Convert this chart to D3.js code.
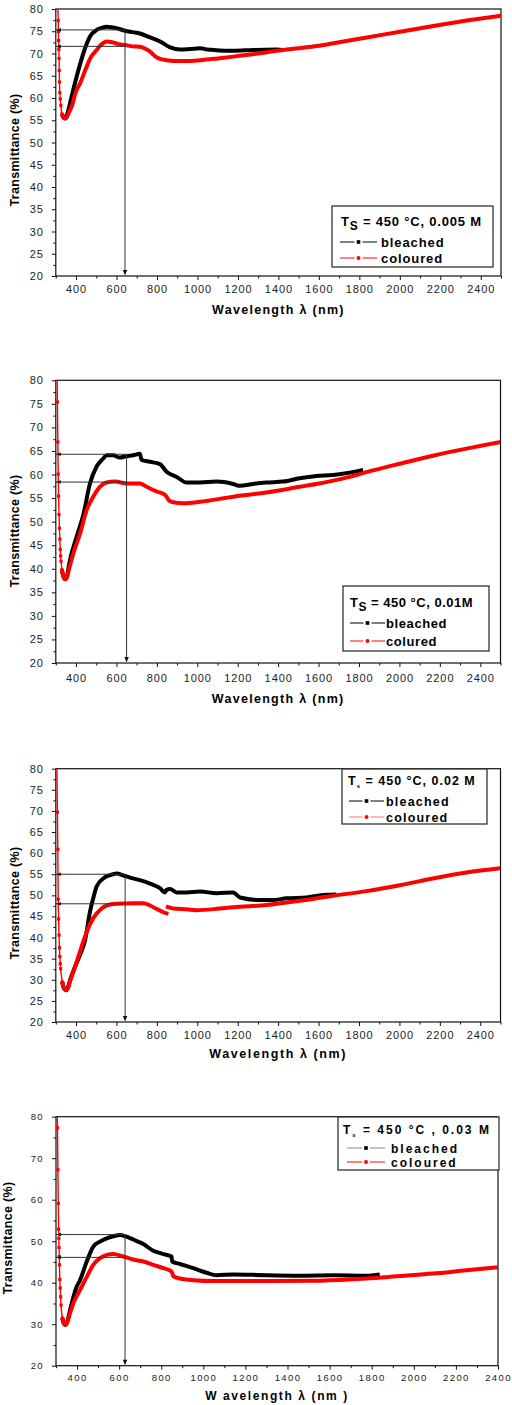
<!DOCTYPE html>
<html>
<head>
<meta charset="utf-8">
<script src="https://cdn.jsdelivr.net/npm/d3@7"></script>
<style>
  body { margin: 0; background: #fff; }
  svg { display: block; font-family: "Liberation Sans", Arial, sans-serif; }
</style>
</head>
<body>
<svg id="chart" width="512" height="1405"></svg>
<script>
// ---- tick values ----
const xMajor = [400, 600, 800, 1000, 1200, 1400, 1600, 1800, 2000, 2200, 2400];
const xMinor = [300, 500, 700, 900, 1100, 1300, 1500, 1700, 1900, 2100, 2300, 2500];
const yMajor5 = [20, 25, 30, 35, 40, 45, 50, 55, 60, 65, 70, 75, 80];
const yMinor5 = [22.5, 27.5, 32.5, 37.5, 42.5, 47.5, 52.5, 57.5, 62.5, 67.5, 72.5, 77.5];
const yMajor10 = [20, 30, 40, 50, 60, 70, 80];
const yMinor10 = [25, 35, 45, 55, 65, 75];

// ---- panel 1 : 0.005 M ----  [wavelength nm, transmittance %]
const p1Edge = [[308,82],[312,77.4],[313,74.9],[314,72.9],[315,70.9],[316,68.9],[317,66.2],[318,63.6],[320,61.2],[322,59.8],[325,58.3],[330,56.4]];
const p1Bleached = [[330,56.4],[338,55.6],[347,55.4],[356,56.3],[366,58],[378,60.3],[403,64.8],[436,70],[469,73.8],[502,75.3],[530,75.8],[551,76],[575,75.9],[600,75.7],[642,75.1],[680,74.8],[716,74.5],[766,73.6],[815,72.7],[865,71.4],[914,70.9],[960,71],[1013,71.2],[1050,70.9],[1079,70.8],[1177,70.6],[1276,70.8],[1392,70.9],[1420,70.8]];
const p1Coloured = [[330,56.4],[338,55.6],[347,55.4],[356,55.8],[365,56.8],[378,58],[400,61.5],[420,63.3],[452,67],[475,69.3],[502,70.8],[525,72],[551,72.7],[580,72.5],[610,72.1],[642,71.9],[680,71.6],[716,71.5],[745,71],[766,70.4],[799,69.1],[848,68.5],[914,68.3],[1013,68.5],[1100,68.9],[1177,69.3],[1300,70],[1392,70.6],[1500,71.2],[1590,71.7],[1672,72.3],[1837,73.6],[2001,74.9],[2166,76.2],[2331,77.4],[2500,78.5]];
const p1Levels = [75.3, 71.6];
const p1ArrowWl = 642;

// ---- panel 2 : 0.01 M ----
const p2Edge = [[306,82],[308,75.4],[310,66.9],[312,60.1],[314,55.4],[316,51.5],[318,48.6],[320,46.3],[322,44.1],[324,42.7],[326,41.6],[330,39.8]];
const p2Bleached = [[330,39.8],[338,38.3],[347,37.8],[356,38.5],[366,41],[403,46.8],[436,51.4],[469,58.1],[502,61.7],[535,63.4],[551,64.1],[584,64.1],[617,63.6],[650,63.9],[683,64.1],[716,64.4],[724,63.1],[766,62.7],[815,62.2],[848,60.6],[898,59.5],[947,58.3],[1013,58.3],[1096,58.5],[1177,58],[1211,57.6],[1276,58],[1342,58.3],[1424,58.5],[1507,59.2],[1589,59.7],[1672,59.9],[1754,60.4],[1820,61]];
const p2Coloured = [[330,39.8],[338,38.3],[347,37.8],[356,38.3],[366,40],[387,43.3],[420,47.5],[453,52.5],[485,55.3],[518,57.4],[551,58.3],[593,58.5],[650,58.1],[716,58.1],[749,57.4],[799,56.4],[840,55.7],[852,55],[860,54.5],[881,54.1],[931,53.9],[1013,54.2],[1177,55.3],[1342,56.2],[1507,57.4],[1589,58],[1672,58.7],[1754,59.5],[1837,60.5],[2002,62.3],[2166,64],[2331,65.5],[2500,66.9]];
const p2Levels = [64.3, 58.4];
const p2ArrowWl = 650;

// ---- panel 3 : 0.02 M ----
const p3Edge = [[305,82],[308,69.7],[310,60.9],[312,49.1],[314,44.4],[316,40.6],[318,37.6],[320,35.5],[322,33.8],[324,32.6],[332,29.5]];
const p3Bleached = [[332,29.5],[340,28],[350,27.5],[360,28.2],[370,29.8],[390,32.5],[420,35.9],[445,39.4],[469,46.1],[485,49.3],[502,52.1],[535,54],[568,54.8],[601,55.2],[634,54.7],[667,54.2],[716,53.6],[766,52.8],[815,51.7],[840,50.7],[848,51.3],[865,51.5],[898,50.7],[947,50.7],[1013,50.9],[1096,50.5],[1177,50.7],[1211,49.5],[1309,48.9],[1375,48.9],[1441,49.3],[1540,49.5],[1622,50.1],[1688,50.2]];
const p3Coloured = [[332,29.5],[340,28],[350,27.5],[360,28],[370,29.6],[387,31.9],[420,36.7],[453,41.4],[485,44.6],[518,46.5],[551,47.6],[601,48],[683,48.1],[733,48.1],[766,47.6],[799,46.8],[832,46],[857,45.6],null,[845,47.4],[881,46.9],[947,46.7],[996,46.5],[1096,46.8],[1177,47.2],[1342,47.7],[1507,48.7],[1672,49.9],[1837,51],[2002,52.4],[2166,54],[2331,55.4],[2500,56.4]];
const p3Levels = [55, 48];
const p3ArrowWl = 643;

// ---- panel 4 : 0.03 M ----
const p4Edge = [[305,82],[307,77.3],[309,67.2],[311,59.1],[312.5,52.9],[313.5,50.7],[314.5,48.5],[315.5,46.3],[316.5,44.3],[318,40.8],[320,38.7],[322,36.6],[324,34.6],[330,31.5]];
const p4Bleached = [[330,31.5],[337,30.2],[344,29.8],[352,30.3],[362,32.4],[398,39],[414,40.6],[446,45.1],[477,48.7],[509,49.9],[541,50.7],[572,51.2],[604,51.5],[635,51.1],[667,50.4],[715,49.3],[762,47.7],[810,46.9],[849,46.3],[852,45.1],[889,44.5],[952,43.5],[1015,42.4],[1063,41.8],[1142,42],[1300,41.8],[1458,41.7],[1617,41.8],[1775,41.7],[1838,42]];
const p4Coloured = [[330,31.5],[337,30.2],[344,29.8],[352,30.3],[362,31.9],[382,35],[414,38.2],[446,41.4],[477,44.3],[509,45.9],[541,46.7],[572,46.9],[620,46.3],[667,45.6],[715,45.1],[762,44.3],[810,43.5],[849,42.7],[857,41.6],[889,41],[952,40.6],[1047,40.4],[1300,40.4],[1553,40.5],[1775,41],[1933,41.6],[2091,42.2],[2250,43],[2400,43.7]];
const p4Levels = [51.6, 46.1];
const p4ArrowWl = 628;

// ---- legend texts ----
const legendTitles = [
  ["S", " = 450 °C, 0.005 M"],
  ["S", " = 450 °C, 0.01M"],
  ["s", " = 450 °C, 0.02 M"],
  ["s", " = 450 °C , 0.03 M"]
];
const legendLabels = [
  ["bleached", "coloured"],
  ["bleached", "colured"],
  ["bleached", "coloured"],
  ["bleached", "coloured"]
];

// layout of each panel
const panels = [
  { edge: p1Edge, bleached: p1Bleached, coloured: p1Coloured, levels: p1Levels, arrowWl: p1ArrowWl,
    left: 55.8, right: 501, top: 9, bottom: 276, xDomain: [300, 2500],
    yMajor: yMajor5, yMinor: yMinor5, tickFs: 11, tickLs: 0.9, xLabelPad: 5,
    yTitle: [15, 150], xTitleY: 314, xTitle: "Wavelength λ (nm)", xTitleLs: 1.3, xTitleFs: 12.5,
    box: [332, 206, 493, 267], titlePos: [341, 226], bigSub: true, rowsY: [242, 258], lineX: [340, 377], textX: 381,
    rowFs: 13, rowLs: 0.9, titleFs: 13, titleLs: 0.8, legendColors: ["#000", "#f00"] },
  { edge: p2Edge, bleached: p2Bleached, coloured: p2Coloured, levels: p2Levels, arrowWl: p2ArrowWl,
    left: 55.8, right: 500.5, top: 380.3, bottom: 663, xDomain: [300, 2500],
    yMajor: yMajor5, yMinor: yMinor5, tickFs: 11, tickLs: 0.9, xLabelPad: 7,
    yTitle: [15, 531], xTitleY: 703, xTitle: "Wavelength λ (nm)", xTitleLs: 1.3, xTitleFs: 12.5,
    box: [343, 586, 489, 651], titlePos: [350, 607], bigSub: true, rowsY: [623, 641], lineX: [350, 385], textX: 386,
    rowFs: 13, rowLs: 0.6, titleFs: 13, titleLs: 0.5, legendColors: ["#000", "#f00"] },
  { edge: p3Edge, bleached: p3Bleached, coloured: p3Coloured, levels: p3Levels, arrowWl: p3ArrowWl,
    left: 55.8, right: 500.5, top: 768.7, bottom: 1022, xDomain: [300, 2500],
    yMajor: yMajor5, yMinor: yMinor5, tickFs: 11, tickLs: 0.9, xLabelPad: 5,
    yTitle: [15, 903], xTitleY: 1058, xTitle: "Wavelength λ (nm)", xTitleLs: 1.6, xTitleFs: 12.5,
    box: [342, 769, 487, 824], titlePos: [348, 785], bigSub: false, rowsY: [801, 817], lineX: [349, 384], textX: 386,
    rowFs: 12.5, rowLs: 1.2, titleFs: 12.5, titleLs: 1, legendColors: ["#000", "#f77"] },
  { edge: p4Edge, bleached: p4Bleached, coloured: p4Coloured, levels: p4Levels, arrowWl: p4ArrowWl,
    left: 56, right: 498, top: 1116.7, bottom: 1365.7, xDomain: [300, 2400],
    yMajor: yMajor10, yMinor: yMinor10, tickFs: 9.5, tickLs: 1.4, xLabelPad: 5,
    yTitle: [8, 1238], xTitleY: 1400, xTitle: "W avelength λ (nm )", xTitleLs: 1.6, xTitleFs: 12,
    box: [338, 1117, 499, 1170], titlePos: [343, 1134], bigSub: false, rowsY: [1148, 1162], lineX: [347, 385], textX: 391,
    rowFs: 12, rowLs: 2, titleFs: 12, titleLs: 2, legendColors: ["#888", "#f00"] }
];

const svg = d3.select("#chart");
svg.append("rect").attr("width", 512).attr("height", 1405).attr("fill", "#fff");

panels.forEach(function (p, i) {
  drawPanel(p, i);
});

function drawPanel(p, i) {
  const x = d3.scaleLinear().domain(p.xDomain).range([p.left, p.right]);
  const y = d3.scaleLinear().domain([20, 80]).range([p.bottom, p.top]);
  const g = svg.append("g").attr("class", "panel" + (i + 1));

  // clip for the curves
  const clipId = "clip" + i;
  svg.append("clipPath").attr("id", clipId)
    .append("rect")
    .attr("x", p.left).attr("y", p.top)
    .attr("width", p.right - p.left).attr("height", p.bottom - p.top);

  // axes
  const xMaj = xMajor.filter(v => v >= p.xDomain[0] && v <= p.xDomain[1]);
  const xMin = xMinor.filter(v => v >= p.xDomain[0] && v <= p.xDomain[1]);

  const gx = g.append("g").attr("transform", "translate(0," + p.bottom + ")")
    .call(d3.axisBottom(x).tickValues(xMaj).tickSize(4).tickPadding(p.xLabelPad).tickFormat(d3.format("d")));
  g.append("g").attr("transform", "translate(0," + p.bottom + ")")
    .call(d3.axisBottom(x).tickValues(xMin).tickSize(2.5).tickFormat(""));
  const gy = g.append("g").attr("transform", "translate(" + p.left + ",0)")
    .call(d3.axisLeft(y).tickValues(p.yMajor).tickSize(4).tickPadding(8));
  g.append("g").attr("transform", "translate(" + p.left + ",0)")
    .call(d3.axisLeft(y).tickValues(p.yMinor).tickSize(2.5).tickFormat(""));

  g.selectAll(".domain").remove();
  g.selectAll(".tick line").attr("stroke", "#111").attr("stroke-width", 1);
  [gx, gy].forEach(function (ax) {
    ax.selectAll("text")
      .attr("fill", "#222")
      .style("font-size", p.tickFs + "px")
      .style("letter-spacing", p.tickLs + "px");
  });

  // frame
  g.append("rect")
    .attr("x", p.left).attr("y", p.top)
    .attr("width", p.right - p.left).attr("height", p.bottom - p.top)
    .attr("fill", "none").attr("stroke", "#111").attr("stroke-width", 1.2);

  // curves
  const line = d3.line()
    .defined(d => d)
    .x(d => x(d[0]))
    .y(d => y(d[1]))
    .curve(d3.curveMonotoneX);

  const curves = g.append("g").attr("clip-path", "url(#" + clipId + ")");

  curves.append("path")
    .attr("d", line(p.bleached))
    .attr("fill", "none").attr("stroke", "#000")
    .attr("stroke-width", 4).attr("stroke-linejoin", "round");

  curves.append("path")
    .attr("d", line(p.coloured))
    .attr("fill", "none").attr("stroke", "#f00")
    .attr("stroke-width", 4).attr("stroke-linejoin", "round");

  curves.append("path")
    .attr("d", line(p.edge))
    .attr("fill", "none").attr("stroke", "#f00")
    .attr("stroke-width", 1.4);

  curves.selectAll(".mk")
    .data(p.edge.slice(1))
    .enter().append("rect")
    .attr("class", "mk")
    .attr("x", d => x(d[0]) - 1.6)
    .attr("y", d => y(d[1]) - 1.6)
    .attr("width", 3.2).attr("height", 3.2)
    .attr("fill", "#f00");

  // guide lines with arrows
  const ax = x(p.arrowWl);
  p.levels.forEach(function (lv) {
    const yy = y(lv);
    g.append("line")
      .attr("x1", p.left).attr("x2", ax)
      .attr("y1", yy).attr("y2", yy)
      .attr("stroke", "#333").attr("stroke-width", 1);
    g.append("path")
      .attr("d", "M" + (p.left + 0.5) + "," + yy + "L" + (p.left + 5) + "," + (yy - 1.8) + "L" + (p.left + 5) + "," + (yy + 1.8) + "Z")
      .attr("fill", "#111");
  });
  g.append("line")
    .attr("x1", ax).attr("x2", ax)
    .attr("y1", y(p.levels[0])).attr("y2", p.bottom - 4)
    .attr("stroke", "#333").attr("stroke-width", 1);
  g.append("path")
    .attr("d", "M" + (ax - 2.2) + "," + (p.bottom - 6) + "L" + (ax + 2.2) + "," + (p.bottom - 6) + "L" + ax + "," + (p.bottom - 0.5) + "Z")
    .attr("fill", "#111");

  // axis titles
  g.append("text")
    .attr("transform", "translate(" + p.yTitle[0] + "," + p.yTitle[1] + ") rotate(-90)")
    .attr("text-anchor", "middle").attr("dy", "0.35em")
    .style("font-size", "12.5px").style("font-weight", "bold").style("letter-spacing", "0.3px")
    .text("Transmittance (%)");

  g.append("text")
    .attr("x", (p.left + p.right) / 2).attr("y", p.xTitleY)
    .attr("text-anchor", "middle")
    .style("font-size", p.xTitleFs + "px").style("font-weight", "bold")
    .style("letter-spacing", p.xTitleLs + "px")
    .text(p.xTitle);

  // legend
  const lg = g.append("g");
  lg.append("rect")
    .attr("x", p.box[0]).attr("y", p.box[1])
    .attr("width", p.box[2] - p.box[0]).attr("height", p.box[3] - p.box[1])
    .attr("fill", "#fff").attr("stroke", "#333").attr("stroke-width", 1.3);

  const title = lg.append("text")
    .attr("x", p.titlePos[0]).attr("y", p.titlePos[1])
    .style("font-size", p.titleFs + "px").style("font-weight", "bold")
    .style("letter-spacing", p.titleLs + "px");
  title.append("tspan").text("T");
  title.append("tspan")
    .attr("dy", p.bigSub ? 4 : 3)
    .style("font-size", p.bigSub ? (p.titleFs - 1) + "px" : "6px")
    .text(legendTitles[i][0]);
  title.append("tspan")
    .attr("dy", p.bigSub ? -4 : -3)
    .text(legendTitles[i][1]);

  legendLabels[i].forEach(function (lab, k) {
    const ry = p.rowsY[k];
    const col = p.legendColors[k];
    const mid = (p.lineX[0] + p.lineX[1]) / 2;
    lg.append("line")
      .attr("x1", p.lineX[0]).attr("x2", mid - 4)
      .attr("y1", ry).attr("y2", ry)
      .attr("stroke", col).attr("stroke-width", 1);
    lg.append("line")
      .attr("x1", mid + 4).attr("x2", p.lineX[1])
      .attr("y1", ry).attr("y2", ry)
      .attr("stroke", col).attr("stroke-width", 1);
    if (k === 0) {
      lg.append("rect")
        .attr("x", mid - 1.8).attr("y", ry - 1.8)
        .attr("width", 3.6).attr("height", 3.6).attr("fill", "#000");
    } else {
      lg.append("circle")
        .attr("cx", mid).attr("cy", ry).attr("r", 2)
        .attr("fill", "#f00");
    }
    lg.append("text")
      .attr("x", p.textX).attr("y", ry + 4.5)
      .style("font-size", p.rowFs + "px").style("font-weight", "bold")
      .style("letter-spacing", p.rowLs + "px")
      .text(lab);
  });
}
</script>
</body>
</html>
